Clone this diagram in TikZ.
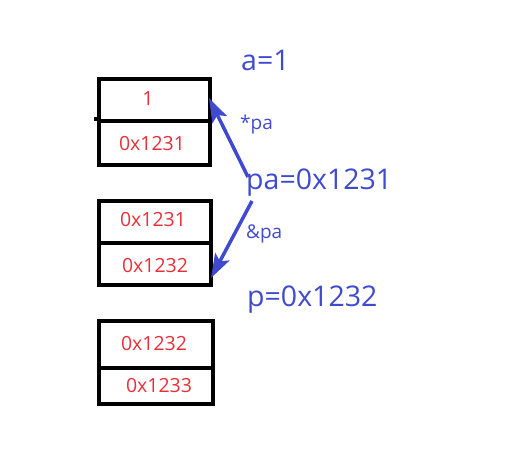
\documentclass[tikz,border=0pt]{standalone}
\usepackage{fontspec}
\setmainfont{Open Sans}
\usetikzlibrary{arrows.meta}
\definecolor{cblue}{HTML}{3F4ACF}
\definecolor{cred}{HTML}{E8303A}
\begin{document}
\begin{tikzpicture}[x=1pt,y=-1pt,
  cell/.style={draw=black,line width=4pt,inner sep=0pt,anchor=north west},
  val/.style={text=cred,font=\fontsize{19.5}{22}\selectfont,inner sep=0pt},
  lbl/.style={text=cblue,font=\fontsize{28.5}{32}\selectfont,inner sep=0pt,anchor=west},
  slbl/.style={text=cblue,font=\fontsize{19}{22}\selectfont,inner sep=0pt,anchor=west},
  ptr/.style={draw=cblue,line width=3.5pt,-{Stealth[length=24pt,width=16pt,inset=5pt]}}]
\useasboundingbox (0,0) rectangle (510,473);
% box 1
\node[cell,minimum width=111pt,minimum height=42pt] (b1t) at (97,77) {};
\node[cell,minimum width=111pt,minimum height=44pt] (b1b) at (97,119) {};
\draw[line width=4pt] (94,119) -- (97,119);
% box 2
\node[cell,minimum width=112pt,minimum height=42pt] (b2t) at (97,199) {};
\node[cell,minimum width=112pt,minimum height=42pt] (b2b) at (97,241) {};
% box 3
\node[cell,minimum width=114pt,minimum height=47pt] (b3t) at (97,319) {};
\node[cell,minimum width=114pt,minimum height=36pt] (b3b) at (97,366) {};
% values
\node[val] (v1) at (148,99) {1};
\node[val] (v2) at (152,144) {0x1231};
\node[val] (v3) at (153,220) {0x1231};
\node[val] (v4) at (155,266) {0x1232};
\node[val] (v5) at (154,344) {0x1232};
\node[val] (v6) at (159,386) {0x1233};
% labels
\node[lbl] (a) at (241,60) {a=1};
\node[lbl] (pa) at (246,183) {pa=0x1231};
\node[lbl] (p) at (247,300) {p=0x1232};
\node[slbl] (spa) at (240,125) {*pa};
\node[slbl] (apa) at (246,234) {\&pa};
% arrows
\coordinate (s1) at (248,177);
\coordinate (e1) at (209,98);
\coordinate (s2) at (252,201);
\coordinate (e2) at (211,278);
\draw[ptr] (s1) -- (e1);
\draw[ptr] (s2) -- (e2);
\end{tikzpicture}
\end{document}
